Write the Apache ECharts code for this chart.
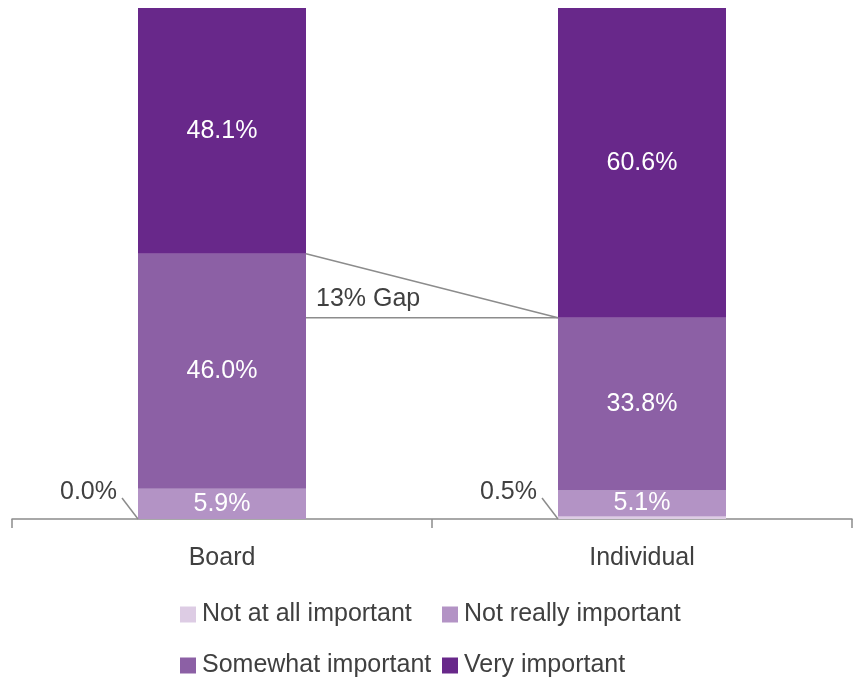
<!DOCTYPE html>
<html>
<head>
<meta charset="utf-8">
<script src="https://cdn.jsdelivr.net/npm/echarts@6/dist/echarts.min.js"></script>
<style>
html,body{margin:0;padding:0;background:#fff;}
#chart{width:859px;height:679px;}
</style>
</head>
<body>
<div id="chart"></div>
<script>
// ---- data ----
var categories = ['Board', 'Individual'];
var seriesNames = ['Not at all important', 'Not really important', 'Somewhat important', 'Very important'];
var notAtAll = [0.0, 0.5];
var notReally = [5.9, 5.1];
var somewhat = [46.0, 33.8];
var veryImportant = [48.1, 60.6];
var gapLabel = '13% Gap';

var colors = ['#DDCCE4', '#B393C5', '#8C60A5', '#68288A'];
var FONT = '"Liberation Sans", Arial, sans-serif';
var TXT = '#404040';
var BAR_FRAC = 0.4;

var chart = echarts.init(document.getElementById('chart'), null, {renderer: 'canvas'});

function fmt(v) { return v.toFixed(1) + '%'; }

var tops = categories.map(function (c, i) { return notAtAll[i] + notReally[i] + somewhat[i]; });

function barSeries(name, data, idx, showLabel) {
  return {
    name: name,
    type: 'bar',
    stack: 'total',
    barWidth: (BAR_FRAC * 100) + '%',
    data: data,
    itemStyle: {color: colors[idx]},
    label: {
      show: showLabel,
      position: 'inside',
      color: '#ffffff',
      fontFamily: FONT,
      fontSize: 25,
      formatter: function (p) { return fmt(p.value); }
    },
    emphasis: {disabled: true}
  };
}

function legendAt(name, left, top) {
  return {
    data: [name],
    left: left,
    top: top,
    padding: 0,
    icon: 'rect',
    itemWidth: 16,
    itemHeight: 16,
    selectedMode: false,
    textStyle: {color: TXT, fontFamily: FONT, fontSize: 25, padding: [0, 0, 0, 1]}
  };
}

var option = {
  animation: false,
  backgroundColor: '#ffffff',
  grid: {left: 12, right: 7, top: 8, bottom: 160, containLabel: false},
  legend: [
    legendAt(seriesNames[0], 180, 602),
    legendAt(seriesNames[1], 442, 602),
    legendAt(seriesNames[2], 180, 653),
    legendAt(seriesNames[3], 442, 653)
  ],
  xAxis: {
    type: 'category',
    data: categories,
    axisLine: {lineStyle: {color: '#8c8c8c', width: 1.5}},
    axisTick: {show: true, length: 9, lineStyle: {color: '#8c8c8c', width: 1.5}},
    axisLabel: {color: TXT, fontFamily: FONT, fontSize: 25, margin: 27}
  },
  yAxis: {type: 'value', min: 0, max: 100, show: false, splitLine: {show: false}},
  series: [
    barSeries(seriesNames[0], notAtAll, 0, false),
    barSeries(seriesNames[1], notReally, 1, true),
    barSeries(seriesNames[2], somewhat, 2, true),
    barSeries(seriesNames[3], veryImportant, 3, true),
    {
      // leader labels for "Not at all important"
      type: 'custom',
      name: 'notAtAllLabels',
      silent: true,
      z: 5,
      data: categories.map(function (c, i) { return [i, notAtAll[i]]; }),
      renderItem: function (params, api) {
        var base = api.coord([api.value(0), 0]);
        var half = api.size([1, 0])[0] * BAR_FRAC / 2;
        var x0 = base[0] - half, y0 = base[1];
        return {
          type: 'group',
          children: [
            {type: 'line', shape: {x1: x0, y1: y0, x2: x0 - 16, y2: y0 - 21},
             style: {stroke: '#8c8c8c', lineWidth: 1.5}},
            {type: 'text', x: x0 - 21, y: y0 - 27,
             style: {text: fmt(api.value(1)), fill: TXT, font: '25px ' + FONT,
                     align: 'right', verticalAlign: 'middle'}}
          ]
        };
      }
    },
    {
      // gap connector
      type: 'custom',
      name: 'gap',
      silent: true,
      z: 5,
      data: [[0, tops[0]]],
      renderItem: function (params, api) {
        var half = api.size([1, 0])[0] * BAR_FRAC / 2;
        var a = api.coord([0, tops[0]]);
        var b = api.coord([1, tops[1]]);
        var xa = a[0] + half, xb = b[0] - half;
        return {
          type: 'group',
          children: [
            {type: 'line', shape: {x1: xa, y1: a[1], x2: xb, y2: b[1]},
             style: {stroke: '#8c8c8c', lineWidth: 1.5}},
            {type: 'line', shape: {x1: xa, y1: b[1], x2: xb, y2: b[1]},
             style: {stroke: '#8c8c8c', lineWidth: 1.5}},
            {type: 'text', x: xa + 10, y: b[1] - 19,
             style: {text: gapLabel, fill: TXT, font: '25px ' + FONT,
                     align: 'left', verticalAlign: 'middle'}}
          ]
        };
      }
    }
  ]
};
chart.setOption(option);
</script>
</body>
</html>
